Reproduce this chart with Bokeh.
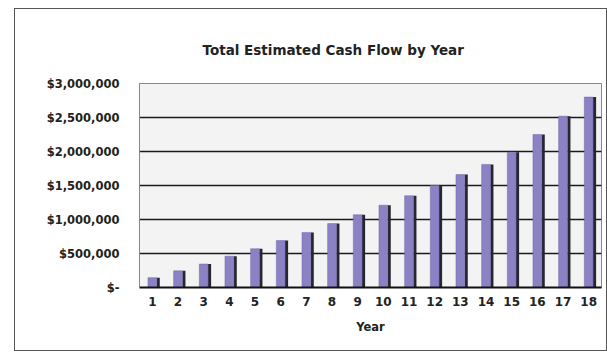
from bokeh.plotting import figure
from bokeh.models import FactorRange, Range1d, FixedTicker, Title
from bokeh.transform import dodge
from bokeh.embed import file_html
from bokeh.resources import INLINE

years = [str(i) for i in range(1, 19)]
cash_flow = [145000, 245000, 345000, 460000, 570000, 690000, 810000, 940000, 1070000,
             1210000, 1350000, 1500000, 1660000, 1810000, 1990000, 2250000, 2520000, 2800000]
y_ticks = [0, 500000, 1000000, 1500000, 2000000, 2500000, 3000000]
y_tick_labels = ["$-", "$500,000", "$1,000,000", "$1,500,000", "$2,000,000", "$2,500,000", "$3,000,000"]
title_text = "Total Estimated Cash Flow by Year"
x_title = "Year"

FONT = "DejaVu Sans"

p = figure(x_range=FactorRange(*years), y_range=Range1d(0, 3000000),
           width=593, height=343, output_backend="svg", toolbar_location=None,
           min_border_left=124, min_border_right=7, min_border_top=74, min_border_bottom=65,
           background_fill_color="#f3f3f3", border_fill_color="white")
p.styles = {"margin-left": "14px", "margin-top": "8px", "border": "1px solid #555"}

t = Title(text=title_text, align="left", offset=63, text_font=FONT, text_font_size="13.5px",
          text_font_style="bold", text_color="#222222", standoff=51)
p.add_layout(t, "above")

data = dict(year=years, value=cash_flow)
p.vbar(x=dodge("year", 0.23, range=p.x_range), top="value", width=0.12, source=data,
       fill_color="#26262e", line_color=None)
p.vbar(x="year", top="value", width=0.34, source=data,
       fill_color="#8b82c6", line_color="#6f67aa", line_width=0.5)

p.outline_line_color="#888888"
p.outline_line_width = 1

p.yaxis.ticker = FixedTicker(ticks=y_ticks)
p.yaxis.major_label_overrides = {v: s for v, s in zip(y_ticks, y_tick_labels)}
p.yaxis.major_label_text_font = FONT
p.yaxis.major_label_text_font_size = "11.5px"
p.yaxis.major_label_text_font_style = "bold"
p.yaxis.major_label_text_color = "#222222"
p.yaxis.major_label_standoff = 14
p.yaxis.axis_line_color = "#888888"
p.yaxis.major_tick_line_color = None
p.yaxis.minor_tick_line_color = None

p.xaxis.axis_label = x_title
p.xaxis.axis_label_text_font = FONT
p.xaxis.axis_label_text_font_size = "11.5px"
p.xaxis.axis_label_text_font_style = "bold"
p.xaxis.axis_label_text_color = "#222222"
p.xaxis.axis_label_standoff = 11
p.xaxis.major_label_text_font = FONT
p.xaxis.major_label_text_font_size = "12px"
p.xaxis.major_label_text_font_style = "bold"
p.xaxis.major_label_text_color = "#222222"
p.xaxis.major_label_standoff = 3
p.xaxis.axis_line_color = "#111111"
p.xaxis.axis_line_width = 2
p.xaxis.major_tick_line_color = None
p.xaxis.minor_tick_line_color = None

p.xgrid.grid_line_color = None
p.ygrid.grid_line_color = "#1a1a1a"
p.ygrid.grid_line_width = 1.5

open("out.html", "w").write(file_html(p, INLINE))
